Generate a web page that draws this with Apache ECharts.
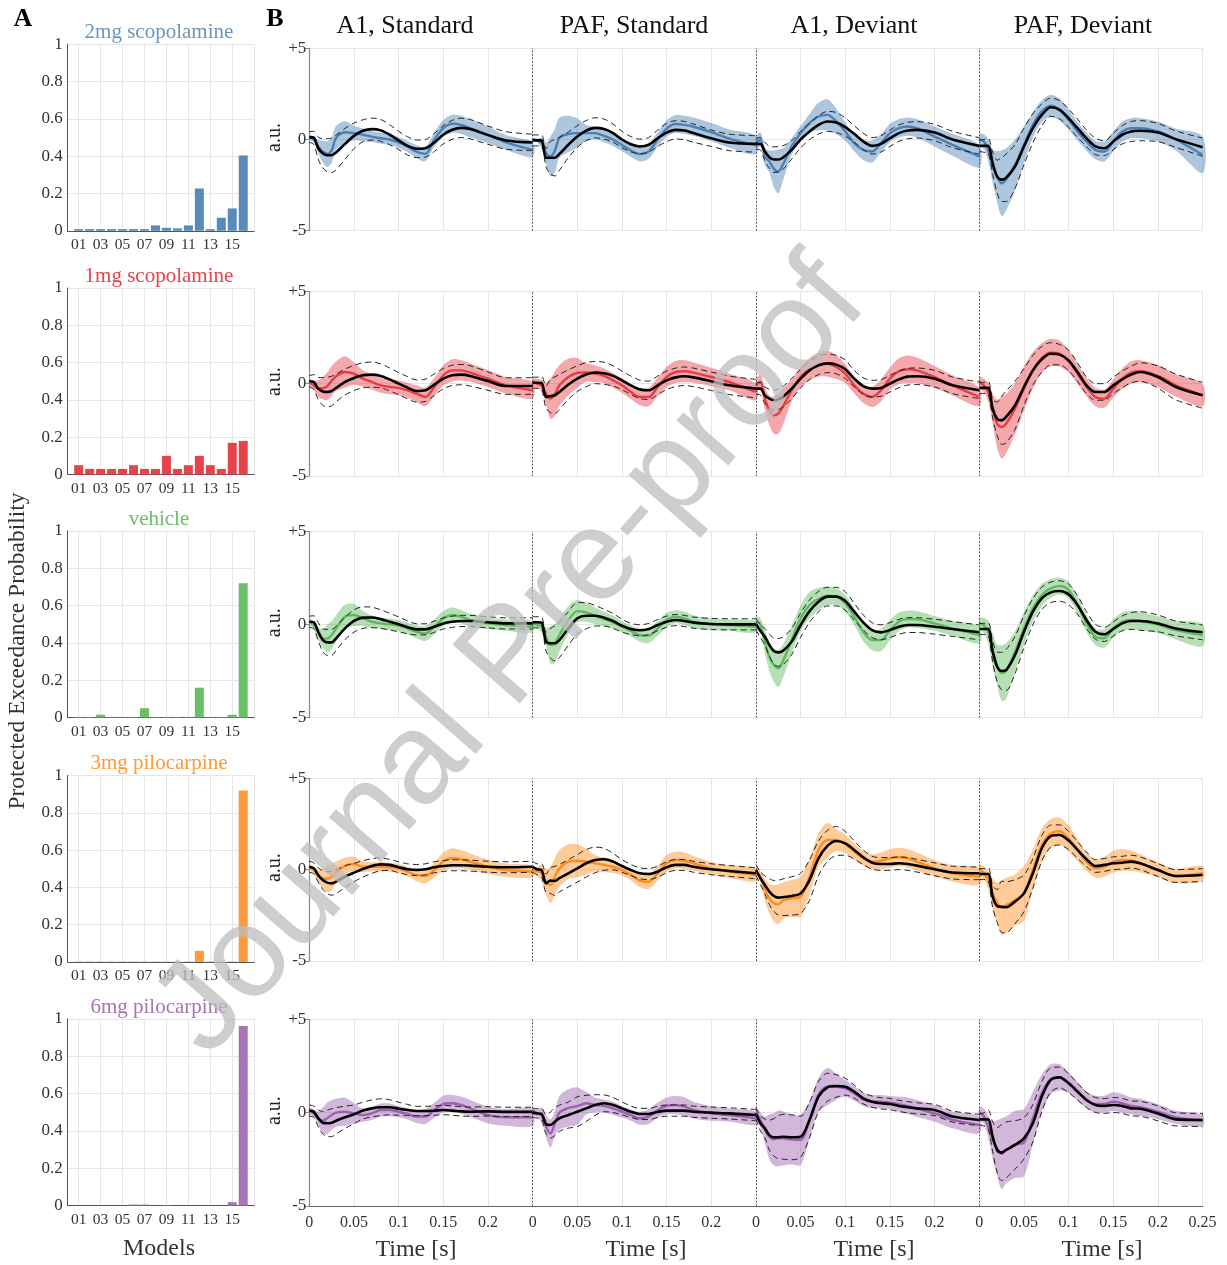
<!DOCTYPE html>
<html>
<head>
<meta charset="utf-8">
<script src="https://cdn.jsdelivr.net/npm/echarts@6.0.0/dist/echarts.min.js"></script>
<style>
  html, body { margin: 0; padding: 0; background: #ffffff; }
  #chart { width: 1227px; height: 1265px; }
</style>
</head>
<body>
<div id="chart"></div>
<script>
// ---- data -------------------------------------------------------------
const models = ['01','02','03','04','05','06','07','08','09','10','11','12','13','14','15','16'];
const conditions = ['2mg scopolamine', '1mg scopolamine', 'vehicle', '3mg pilocarpine', '6mg pilocarpine'];
const panelTitles = ['A1, Standard', 'PAF, Standard', 'A1, Deviant', 'PAF, Deviant'];

// protected exceedance probability per model
const pepScop2   = [0.009,0.009,0.009,0.009,0.009,0.009,0.009,0.029,0.016,0.013,0.029,0.227,0.009,0.07,0.12,0.404];
const pepScop1   = [0.05,0.03,0.03,0.03,0.03,0.05,0.03,0.03,0.1,0.03,0.05,0.1,0.05,0.03,0.17,0.18];
const pepVehicle = [0.003,0.003,0.015,0.003,0.003,0.003,0.05,0.003,0.003,0.003,0.003,0.16,0.003,0.003,0.015,0.72];
const pepPilo3   = [0.002,0.002,0.002,0.002,0.002,0.002,0.002,0.002,0.002,0.002,0.002,0.06,0.002,0.002,0.002,0.92];
const pepPilo6   = [0,0,0,0,0,0.005,0.005,0,0.002,0,0,0,0,0,0.018,0.963];

// sample times within each 0-0.25 s epoch
const T = [0, 0.005, 0.01, 0.015, 0.02, 0.025, 0.03, 0.04, 0.05, 0.06, 0.07, 0.08, 0.09, 0.10, 0.11, 0.12, 0.13, 0.14, 0.15, 0.16, 0.17, 0.18, 0.20, 0.22, 0.25];

// per condition: [A1 std, PAF std, A1 dev, PAF dev]
// Mean = observed ERP, Spread = half width of dashed envelope,
// Model = model prediction, Band = half width of prediction band
const scop2Mean = [
  [.13,.1,-.48,-.75,-.86, -.86,-.71,-.24,.2,.48, .57,.5,.26,-.05,-.35, -.51,-.48,-.16,.26,.53, .64,.57,.24,-.05,-.16],
  [-.05,-.05,-.05,-1,-1, -1,-.79,-.29,.16,.49, .64,.57,.35,0,-.26, -.38,-.29,.07,.38,.53, .49,.35,.07,-.16,-.24],
  [-.24,-.24,-.66,-.97,-1.1, -1.1,-1,-.57,0,.44, .8,.99,.93,.68,.31, -.1,-.35,-.24,.07,.35, .49,.53,.38,0,-.35],
  [-.35,-.35,-.35,-1.3,-2.03, -2.2,-2.1,-1.48,-.38,.62, 1.35,1.77,1.63,1.17,.62, .07,-.38,-.48,-.11,.26, .44,.48,.38,.02,-.42]
];
const scop2Spread = [
  [.3,.35,.6,.8,.9, .95,.95,.85,.7,.6, .6,.6,.55,.5,.5, .48,.48,.5,.5,.52, .53,.53,.5,.48,.45],
  [.3,.3,.3,.5,.9, 1,.9,.7,.6,.55, .55,.55,.5,.45,.42, .4,.4,.45,.5,.5, .5,.5,.45,.45,.45],
  [.3,.35,.5,.6,.7, .7,.65,.5,.45,.45, .5,.55,.55,.5,.45, .45,.45,.45,.45,.45, .45,.45,.45,.45,.45],
  [.3,.35,.4,.6,.9, 1.2,1.3,1.2,1,.8, .6,.5,.5,.5,.5, .45,.45,.4,.45,.5, .55,.55,.5,.45,.5]
];
const scop2Model = [
  [.13,0,-.38,-.66,-.79, -.6,.1,.4,.35,.26, .16,.07,0,-.16,-.38, -.66,-.79,0,.62,.86, .8,.62,.26,-.16,-.57],
  [0,-.05,-.2,-.75,-.93, -.6,.1,.3,.35,.35, .35,.2,0,-.3,-.6, -.8,-.65,0,.6,.85, .8,.7,.4,.05,-.3],
  [-.2,0,-.93,-1.2,-1.6, -1.75,-1.4,-.38,.35,.9, 1.26,1.35,.99,.44,-.2, -.57,-.66,-.2,.35,.62, .71,.62,.16,-.29,-.93],
  [0,-.1,-.57,-1.48,-2.03, -2.4,-2.2,-1.4,-.29,.8, 1.54,1.85,1.63,1.08,.44, -.11,-.57,-.66,-.11,.44, .62,.62,.44,0,-.84]
];
const scop2Band = [
  [.1,.15,.35,.6,.7, .7,.65,.6,.4,.35, .3,.3,.3,.3,.3, .35,.4,.4,.45,.5, .5,.5,.45,.4,.4],
  [.1,.1,.3,.6,1.1, 1.2,1.1,1,.8,.45, .35,.35,.35,.35,.35, .4,.4,.4,.45,.5, .5,.5,.5,.5,.5],
  [.3,.4,.5,.6,1, 1.2,.9,.45,.4,.5, .75,.85,.7,.5,.45, .55,.6,.5,.5,.5, .5,.5,.55,.6,.6],
  [.3,.4,.6,.9,1.4, 1.8,1.7,1.4,1,.7, .6,.6,.6,.55,.5, .5,.5,.55,.55,.55, .55,.55,.55,.6,1]
];

const scop1Mean = [
  [.13,.09,-.27,-.42,-.45, -.4,-.23,.09,.31,.45, .49,.42,.23,0,-.22, -.4,-.36,-.05,.27,.45, .49,.42,.14,-.13,-.13],
  [.05,.05,.04,-.72,-.67, -.63,-.45,-.05,.27,.49, .6,.56,.42,.18,-.09, -.31,-.36,-.09,.18,.34, .4,.34,.13,-.09,-.27],
  [-.27,-.27,-.63,-.81,-.9, -.85,-.72,-.27,.27,.72, .99,1.1,1.03,.78,.27, -.13,-.27,-.23,0,.23, .38,.4,.27,-.09,-.36],
  [-.23,-.23,-.23,-1.35,-1.9, -1.99,-1.8,-1.17,-.18,.72, 1.32,1.62,1.57,1.26,.63, -.09,-.45,-.45,-.09,.23, .49,.63,.36,-.18,-.63]
];
const scop1Spread = [
  [.3,.4,.6,.75,.8, .8,.75,.7,.68,.68, .68,.65,.62,.6,.6, .6,.6,.58,.55,.55, .55,.55,.5,.45,.45],
  [.3,.3,.35,.6,.9, 1,.95,.8,.7,.65, .6,.6,.55,.5,.5, .5,.5,.5,.5,.5, .5,.5,.5,.5,.5],
  [.3,.35,.45,.5,.55, .55,.55,.55,.5,.5, .5,.5,.5,.5,.45, .45,.45,.45,.45,.45, .45,.45,.45,.45,.45],
  [.3,.3,.35,.5,.9, 1.3,1.4,1.3,1,.8, .7,.6,.55,.55,.5, .45,.45,.45,.45,.45, .45,.5,.6,.7,.7]
];
const scop1Model = [
  [.09,-.09,-.27,-.25,-.15, .15,.4,.63,.54,.27, .09,-.09,-.18,-.23,-.36, -.54,-.72,-.18,.45,.72, .72,.6,.27,-.09,-.36],
  [.09,0,-.09,-.54,-.81, -.54,-.09,.36,.58,.6, .54,.42,.18,-.09,-.45, -.72,-.72,-.18,.36,.63, .67,.6,.36,.09,-.45],
  [-.09,.09,-.81,-1.44,-1.71, -1.62,-1.26,-.36,.36,.78, 1.03,1.08,.9,.54,-.09, -.54,-.72,-.36,.27,.67, .78,.72,.36,-.09,-.72],
  [.09,-.09,-.45,-1.35,-2.17, -2.35,-2.17,-1.35,-.27,.72, 1.39,1.68,1.62,1.21,.54, -.18,-.72,-.81,-.27,.27, .6,.67,.42,-.09,-.63]
];
const scop1Band = [
  [.15,.25,.45,.6,.75, .8,.8,.85,.6,.45, .4,.4,.4,.4,.4, .45,.5,.5,.55,.6, .55,.5,.45,.45,.45],
  [.2,.25,.3,.6,1.1, 1.2,1.1,1,.8,.5, .45,.4,.4,.4,.4, .45,.5,.5,.55,.6, .6,.55,.5,.45,.45],
  [.3,.4,.6,.8,1, 1.1,1,.6,.55,.6, .65,.7,.65,.5,.45, .5,.55,.6,.6,.7, .75,.7,.6,.55,.5],
  [.3,.35,.5,.8,1.3, 1.7,1.6,1.4,1.2,1, .8,.75,.7,.6,.55, .5,.5,.5,.5,.55, .6,.6,.6,.6,.6]
];

const vehMean = [
  [.16,.13,-.38,-.82,-.95, -.95,-.73,-.2,.2,.38, .39,.3,.16,.02,-.14, -.25,-.25,-.11,.07,.16, .2,.2,.13,.07,.07],
  [.13,.13,.11,-.91,-1, -1,-.82,-.2,.34,.48, .48,.38,.2,-.05,-.23, -.3,-.23,-.02,.16,.25, .2,.11,.04,.02,.02],
  [.02,-.34,-.65,-1.09,-1.42, -1.49,-1.42,-.91,-.02,.73, 1.24,1.51,1.51,1.27,.7, .13,-.29,-.41,-.29,-.11, -.02,-.02,-.11,-.23,-.41],
  [-.23,-.23,-.23,-1.45,-2.26, -2.49,-2.44,-1.63,-.38,.7, 1.42,1.74,1.81,1.63,1.06, .25,-.38,-.52,-.23,.07, .2,.2,.07,-.2,-.41]
];
const vehSpread = [
  [.3,.35,.5,.6,.7, .7,.65,.6,.6,.58, .55,.5,.45,.4,.35, .3,.3,.3,.3,.3, .3,.3,.3,.3,.3],
  [.3,.3,.3,.5,.8, .95,.95,.9,.85,.7, .55,.45,.4,.35,.3, .3,.3,.3,.3,.3, .3,.3,.3,.3,.3],
  [.3,.35,.45,.6,.7, .75,.75,.7,.65,.6, .55,.5,.5,.5,.45, .4,.4,.4,.4,.4, .4,.4,.4,.4,.4],
  [.3,.3,.35,.55,.8, 1,1.1,1,.85,.7, .6,.55,.55,.55,.5, .45,.4,.38,.38,.4, .45,.5,.45,.4,.4]
];
const vehModel = [
  [.16,-.02,-.47,-.73,-.75, -.55,-.2,.43,.52,.34, .16,.07,.02,-.05,-.2, -.38,-.47,-.11,.34,.52, .43,.25,.07,-.02,-.11],
  [.07,0,-.11,-.65,-1.1, -1,-.56,.25,.73,.66, .48,.3,.13,-.11,-.34, -.56,-.59,-.2,.25,.43, .34,.16,.02,-.02,-.11],
  [.16,0,-.91,-1.72,-2.17, -2.35,-1.99,-.82,.34,1.06, 1.38,1.56,1.51,1.15,.43, -.38,-.82,-.82,-.29,.16, .3,.29,.07,-.2,-.56],
  [.07,-.02,-.38,-1.36,-2.17, -2.6,-2.5,-1.45,-.2,.88, 1.6,1.95,2.08,1.86,1.06, .07,-.65,-.73,-.2,.16, .25,.2,0,-.29,-.56]
];
const vehBand = [
  [.15,.2,.35,.5,.75, .75,.7,.65,.6,.4, .35,.3,.3,.3,.3, .35,.4,.4,.4,.4, .35,.35,.3,.3,.3],
  [.15,.2,.3,.5,1, 1.05,.9,.75,.6,.5, .45,.4,.35,.3,.3, .35,.4,.4,.4,.35, .35,.35,.3,.3,.3],
  [.3,.35,.6,.8,.9, 1,.9,.75,.7,.7, .6,.5,.45,.45,.45, .5,.55,.6,.55,.5, .45,.45,.4,.4,.45],
  [.3,.4,.6,.9,1.1, 1.5,1.5,1.1,.9,.7, .6,.5,.45,.45,.45, .45,.45,.5,.5,.5, .5,.5,.45,.5,.6]
];

const pilo3Mean = [
  [.16,.07,-.29,-.57,-.71, -.75,-.66,-.38,-.16,.04, .2,.29,.26,.13,.02, -.02,.02,.13,.2,.24, .24,.22,.16,.13,.16],
  [.16,.02,-.02,-.75,-.6, -.62,-.47,-.2,.07,.35, .53,.57,.44,.2,-.02, -.2,-.24,-.11,.13,.26, .26,.16,.02,-.07,-.2],
  [-.02,-.47,-.84,-1.2,-1.44, -1.53,-1.51,-1.44,-1.3,-.57, .62,1.3,1.57,1.44,1.08, .68,.38,.31,.31,.35, .31,.22,.02,-.16,-.2],
  [-.24,-.24,-.24,-1.48,-1.99, -2.03,-2.06,-1.75,-1.3,-.2, 1.17,1.84,1.9,1.59,1.08, .57,.2,.26,.35,.38, .44,.35,-.02,-.35,-.29]
];
const pilo3Spread = [
  [.3,.3,.4,.5,.6, .65,.65,.6,.5,.45, .4,.35,.3,.3,.3, .3,.3,.3,.3,.3, .3,.3,.3,.3,.3],
  [.3,.3,.35,.5,.7, .8,.75,.75,.75,.75, .7,.6,.45,.35,.3, .3,.3,.3,.3,.3, .3,.3,.3,.3,.3],
  [.3,.35,.5,.7,.85, .95,1,1.05,1.1,1.1, .95,.85,.8,.65,.5, .4,.35,.35,.35,.35, .35,.35,.35,.35,.35],
  [.3,.3,.35,.6,.9, 1.4,1.4,1.2,1,.8, .7,.6,.55,.5,.45, .4,.35,.35,.35,.35, .35,.35,.35,.35,.35]
];
const pilo3Model = [
  [.16,0,-.38,-.47,-.5, -.4,-.15,.2,.31,.16, .16,.16,.13,.07,-.11, -.29,-.35,-.02,.44,.62, .57,.44,.16,-.02,-.11],
  [0,-.1,-.18,-.66,-.84, -.38,.07,.44,.49,.44, .35,.26,.16,-.02,-.29, -.6,-.66,-.2,.35,.53, .49,.35,.07,-.11,-.29],
  [-.02,-.38,-1.11,-1.57,-1.84, -1.9,-1.7,-1.57,-1.48,-.38, 1.08,1.62,1.62,1.4,.99, .62,.44,.49,.62,.68, .62,.44,.07,-.2,-.38],
  [0,-.18,-.57,-1.3,-1.81, -2.1,-1.95,-1.66,-1.3,-.02, 1.35,1.97,2.1,1.7,1.08, .44,.07,.16,.44,.53, .49,.35,0,-.35,-.2]
];
const pilo3Band = [
  [.15,.2,.35,.55,.73, .73,.6,.45,.4,.3, .25,.25,.25,.25,.25, .35,.4,.4,.5,.55, .5,.45,.4,.35,.3],
  [.15,.25,.45,.7,1, 1,1,.95,.9,.7, .45,.4,.35,.3,.3, .35,.4,.4,.45,.45, .45,.4,.35,.35,.35],
  [.2,.3,.6,.8,1, 1.1,1,1,1.1,1, .9,.95,.6,.5,.45, .4,.4,.45,.5,.5, .5,.5,.45,.45,.45],
  [.3,.35,.5,.8,1.1, 1.5,1.5,1.4,1.5,1.1, .9,.8,.75,.7,.6, .5,.5,.55,.6,.6, .55,.5,.4,.4,.4]
];

const pilo6Mean = [
  [.11,.05,-.3,-.54,-.57, -.54,-.43,-.25,-.09,.11, .23,.29,.29,.21,.14, .09,.09,.11,.14,.11, .07,.05,.07,.04,.04],
  [0,-.04,-.07,-.61,-.66, -.48,-.3,-.13,.05,.23, .41,.5,.41,.23,.05, -.07,-.07,.04,.11,.11, .11,.05,0,-.04,-.13],
  [-.04,-.57,-.84,-1.2,-1.32, -1.32,-1.29,-1.32,-1.29,-.39, .86,1.36,1.43,1.39,1.13, .77,.59,.5,.46,.36, .29,.23,.14,-.21,-.39],
  [-.36,-.36,-.36,-1.29,-2, -2.14,-2,-1.73,-1.38,-.57, .86,1.75,1.89,1.57,1.13, .68,.41,.36,.41,.36, .23,.21,-.04,-.36,-.39]
];
const pilo6Spread = [
  [.3,.3,.45,.6,.7, .75,.7,.6,.5,.45, .45,.45,.4,.35,.3, .25,.25,.25,.25,.25, .25,.25,.25,.25,.25],
  [.25,.25,.3,.5,.7, .75,.7,.7,.8,.7, .55,.45,.4,.35,.3, .3,.3,.3,.3,.3, .3,.3,.3,.3,.3],
  [.3,.4,.5,.8,1, 1.15,1.2,1.2,1.1,.95, .8,.75,.6,.45,.35, .3,.3,.3,.3,.3, .3,.3,.3,.3,.3],
  [.3,.35,.5,.8,1.2, 1.5,1.5,1.3,1.1,1, .8,.65,.55,.5,.45, .4,.4,.4,.4,.4, .4,.4,.4,.35,.35]
];
const pilo6Model = [
  [.11,-.04,-.3,-.43,-.3, -.13,0,.05,-.04,-.13, -.04,.14,.14,.05,-.07, -.21,-.21,.14,.46,.5, .41,.23,-.13,-.25,-.25],
  [.14,-.05,-.13,-.75,-1.11, -.57,0,.25,.35,.5, .41,.36,.23,.05,-.13, -.3,-.21,.14,.36,.41, .32,.14,-.04,-.13,-.3],
  [0,-.39,-.93,-1.29,-1.43, -1.38,-1.38,-1.43,-1.46,-.39, .95,1.39,1.39,1.3,1.04, .71,.59,.59,.54,.46, .36,.23,-.04,-.39,-.66],
  [0,-.18,-.75,-1.46,-1.91, -2.2,-2,-1.7,-1.6,-.3, 1.04,1.79,1.89,1.61,1.13, .68,.46,.46,.59,.5, .36,.29,.05,-.25,-.43]
];
const pilo6Band = [
  [.15,.2,.35,.7,.85, .8,.75,.75,.55,.35, .35,.35,.35,.3,.3, .35,.4,.4,.45,.45, .45,.45,.45,.45,.45],
  [.15,.2,.4,.6,.75, .65,.9,1,1,.6, .4,.35,.35,.3,.3, .35,.4,.4,.45,.5, .5,.45,.4,.35,.35],
  [.3,.4,.7,1.2,1.4, 1.5,1.45,1.35,1.35,1, .9,1,.7,.45,.4, .35,.35,.35,.35,.4, .45,.45,.45,.45,.45],
  [.3,.4,.6,1,1.5, 1.9,1.8,1.8,1.8,1.4, 1,.8,.7,.55,.5, .45,.45,.45,.5,.5, .45,.45,.4,.35,.3]
];

// ---- styling ----------------------------------------------------------
const SERIF = "'Liberation Serif','DejaVu Serif',serif";
const rows = [
  { name: conditions[0], pep: pepScop2, mean: scop2Mean, spread: scop2Spread, model: scop2Model, band: scop2Band,
    bar: '#5a8ab7', line: '#4a80b4', fill: 'rgba(74,128,180,0.45)', title: '#6a95c0' },
  { name: conditions[1], pep: pepScop1, mean: scop1Mean, spread: scop1Spread, model: scop1Model, band: scop1Band,
    bar: '#e6434b', line: '#e63c45', fill: 'rgba(232,62,72,0.45)', title: '#e6434b' },
  { name: conditions[2], pep: pepVehicle, mean: vehMean, spread: vehSpread, model: vehModel, band: vehBand,
    bar: '#6bbf69', line: '#5fb85d', fill: 'rgba(95,184,93,0.45)', title: '#6bbf69' },
  { name: conditions[3], pep: pepPilo3, mean: pilo3Mean, spread: pilo3Spread, model: pilo3Model, band: pilo3Band,
    bar: '#ff9a3a', line: '#ff8c1a', fill: 'rgba(255,140,26,0.45)', title: '#ff9a3a' },
  { name: conditions[4], pep: pepPilo6, mean: pilo6Mean, spread: pilo6Spread, model: pilo6Model, band: pilo6Band,
    bar: '#a874b6', line: '#9b5fae', fill: 'rgba(155,95,174,0.45)', title: '#a874b6' }
];

const barLeft = 67.7, barW = 186.5, barH = 186.5;
const barTops = [44.3, 288, 531, 775.5, 1019];
const lineLeft = 309.3, lineW = 893.3;
const lineTops = [48.3, 291.3, 531.7, 778.3, 1019.3];
const lineBots = [230.7, 476, 717.7, 961, 1206];
const GRID_C = '#e6e6e6';
const modelCats = [''].concat(models, ['']);

const grid = [], xAxis = [], yAxis = [], series = [], graphic = [];

// bar panels (A)
rows.forEach((row, r) => {
  grid.push({ left: barLeft, top: barTops[r], width: barW, height: barH });
  xAxis.push({
    gridIndex: r, type: 'category', boundaryGap: false, data: modelCats,
    axisLine: { lineStyle: { color: '#555', width: 1 } },
    axisTick: { show: false },
    axisLabel: { interval: (i) => i % 2 === 1 && i < 16, margin: 6, fontFamily: SERIF, fontSize: 15.5, color: '#333' },
    splitLine: { show: true, interval: (i) => i % 2 === 1 || i === 17, lineStyle: { color: GRID_C } }
  });
  yAxis.push({
    gridIndex: r, type: 'value', min: 0, max: 1, interval: 0.2,
    axisLine: { show: true, lineStyle: { color: '#555', width: 1 } },
    axisTick: { show: false },
    axisLabel: { margin: 5, fontFamily: SERIF, fontSize: 17, color: '#333' },
    splitLine: { lineStyle: { color: GRID_C } }
  });
  series.push({
    type: 'bar', xAxisIndex: r, yAxisIndex: r, barWidth: 9, silent: true,
    itemStyle: { color: row.bar },
    data: [null].concat(row.pep, [null])
  });
});

// time-course panels (B)
function timeLabel(v) {
  const k = Math.round(v / 0.05);
  if (k === 20) return '0.25';
  const m = k % 5;
  return m === 0 ? '0' : String(+(m * 0.05).toFixed(2));
}

// filled prediction band drawn as one closed, smoothed outline per epoch
function bandSeries(xi, yi, xs, lo, hi, color) {
  return {
    type: 'custom', xAxisIndex: xi, yAxisIndex: yi, silent: true, z: 1,
    data: xs.map((x, i) => [x, lo[i], hi[i]]),
    encode: { x: 0, y: [1, 2] },
    renderItem: (params, api) => {
      if (params.dataIndex !== 0) return null;
      const upper = xs.map((x, i) => api.coord([x, hi[i]]));
      const lower = xs.map((x, i) => api.coord([x, lo[i]])).reverse();
      return {
        type: 'polygon',
        shape: { points: upper.concat(lower), smooth: 0.3 },
        style: { fill: color, stroke: null }
      };
    }
  };
}

rows.forEach((row, r) => {
  const gi = 5 + r;
  const last = r === rows.length - 1;
  grid.push({ left: lineLeft, top: lineTops[r], width: lineW, height: lineBots[r] - lineTops[r] });
  xAxis.push({
    gridIndex: gi, type: 'value', min: 0, max: 1, interval: 0.05,
    axisLine: { show: last, onZero: false, lineStyle: { color: '#666', width: 1.2 } },
    axisTick: { show: false },
    axisLabel: { show: last, formatter: timeLabel, margin: 9, fontFamily: SERIF, fontSize: 16, color: '#333', showMinLabel: true, showMaxLabel: true },
    splitLine: { show: true, lineStyle: { color: GRID_C } }
  });
  yAxis.push({
    gridIndex: gi, type: 'value', min: -5, max: 5, interval: 5,
    axisLine: { show: true, onZero: false, lineStyle: { color: '#888', width: 1.2 } },
    axisTick: { show: true, length: 4, lineStyle: { color: '#888' } },
    axisLabel: { formatter: (v) => (v > 0 ? '+' + v : String(v)), margin: 3, fontFamily: SERIF, fontSize: 17, color: '#333' },
    splitLine: { lineStyle: { color: GRID_C } }
  });

  const xi = 5 + r, yi = 5 + r;
  const base = { type: 'line', xAxisIndex: xi, yAxisIndex: yi, symbol: 'none', showSymbol: false, smooth: 0.3, silent: true };

  for (let p = 0; p < 4; p++) {
    const off = p * 0.25;
    const xs = T.map((t) => off + t);
    const mean = row.mean[p], spread = row.spread[p], model = row.model[p], band = row.band[p];
    series.push(bandSeries(xi, yi, xs,
      model.map((v, i) => v - band[i]),
      model.map((v, i) => v + band[i]),
      row.fill));
    // model prediction
    series.push(Object.assign({}, base, {
      z: 2, lineStyle: { color: row.line, width: 2.4 },
      data: xs.map((x, i) => [x, model[i]])
    }));
    // observed envelope (dashed)
    series.push(Object.assign({}, base, {
      z: 3, lineStyle: { color: '#222', width: 1, type: [6, 4] },
      data: xs.map((x, i) => [x, mean[i] + spread[i]])
    }));
    series.push(Object.assign({}, base, {
      z: 3, lineStyle: { color: '#222', width: 1, type: [6, 4] },
      data: xs.map((x, i) => [x, mean[i] - spread[i]])
    }));
    // observed mean
    const meanSeries = Object.assign({}, base, {
      z: 4, lineStyle: { color: '#000', width: 2.6 },
      data: xs.map((x, i) => [x, mean[i]])
    });
    if (p === 0) {
      meanSeries.markLine = {
        silent: true, symbol: ['none', 'none'], label: { show: false },
        lineStyle: { type: [1.5, 2], color: '#444', width: 1 },
        data: [{ xAxis: 0.25 }, { xAxis: 0.5 }, { xAxis: 0.75 }]
      };
    }
    series.push(meanSeries);
  }

  // a.u. label
  graphic.push({
    type: 'text', x: 275, y: (lineTops[r] + lineBots[r]) / 2 - 2, rotation: Math.PI / 2,
    style: { text: 'a.u.', font: "20px 'Liberation Serif'", fill: '#222', align: 'center', verticalAlign: 'middle', textAlign: 'center', textVerticalAlign: 'middle' }
  });
  // condition title above bar panel
  graphic.push({
    type: 'text', x: barLeft + barW / 2 - 2, y: barTops[r] - 12,
    style: { text: row.name, font: "21px 'Liberation Serif'", fill: row.title, align: 'center', verticalAlign: 'middle', textAlign: 'center', textVerticalAlign: 'middle' }
  });
});

// boundary ticks under the bottom time axis
xAxis.push({
  gridIndex: 9, type: 'value', min: 0, max: 1, interval: 0.25, position: 'bottom',
  axisLine: { show: false }, axisLabel: { show: false }, splitLine: { show: false },
  axisTick: { show: true, length: 4, lineStyle: { color: '#666' } }
});

// panel titles and axis titles
const titleX = [405, 634, 854, 1083];
const timeX = [416, 646, 874, 1102];
panelTitles.forEach((t, i) => {
  graphic.push({ type: 'text', x: titleX[i], y: 26,
    style: { text: t, font: "26px 'Liberation Serif'", fill: '#111', align: 'center', verticalAlign: 'middle', textAlign: 'center', textVerticalAlign: 'middle' } });
  graphic.push({ type: 'text', x: timeX[i], y: 1250,
    style: { text: 'Time [s]', font: "24px 'Liberation Serif'", fill: '#333', align: 'center', verticalAlign: 'middle', textAlign: 'center', textVerticalAlign: 'middle' } });
});
graphic.push({ type: 'text', x: 159, y: 1249,
  style: { text: 'Models', font: "24px 'Liberation Serif'", fill: '#333', align: 'center', verticalAlign: 'middle', textAlign: 'center', textVerticalAlign: 'middle' } });
graphic.push({ type: 'text', x: 18, y: 651, rotation: Math.PI / 2,
  style: { text: 'Protected Exceedance Probability', font: "23.5px 'Liberation Serif'", fill: '#333', align: 'center', verticalAlign: 'middle', textAlign: 'center', textVerticalAlign: 'middle' } });
graphic.push({ type: 'text', x: 23, y: 19,
  style: { text: 'A', font: "bold 26px 'Liberation Serif'", fill: '#000', align: 'center', verticalAlign: 'middle', textAlign: 'center', textVerticalAlign: 'middle' } });
graphic.push({ type: 'text', x: 275, y: 19,
  style: { text: 'B', font: "bold 26px 'Liberation Serif'", fill: '#000', align: 'center', verticalAlign: 'middle', textAlign: 'center', textVerticalAlign: 'middle' } });
// journal watermark
graphic.push({ type: 'text', x: 512, y: 658, rotation: 0.852, z: 100,
  style: { text: 'Journal Pre-proof', font: "130px 'Liberation Sans'", fill: 'rgba(190,190,190,0.75)', align: 'center', verticalAlign: 'middle', textAlign: 'center', textVerticalAlign: 'middle' } });

const chart = echarts.init(document.getElementById('chart'), null, { renderer: 'canvas' });
chart.setOption({
  animation: false,
  backgroundColor: '#ffffff',
  grid, xAxis, yAxis, series,
  graphic: { elements: graphic }
});
</script>
</body>
</html>
